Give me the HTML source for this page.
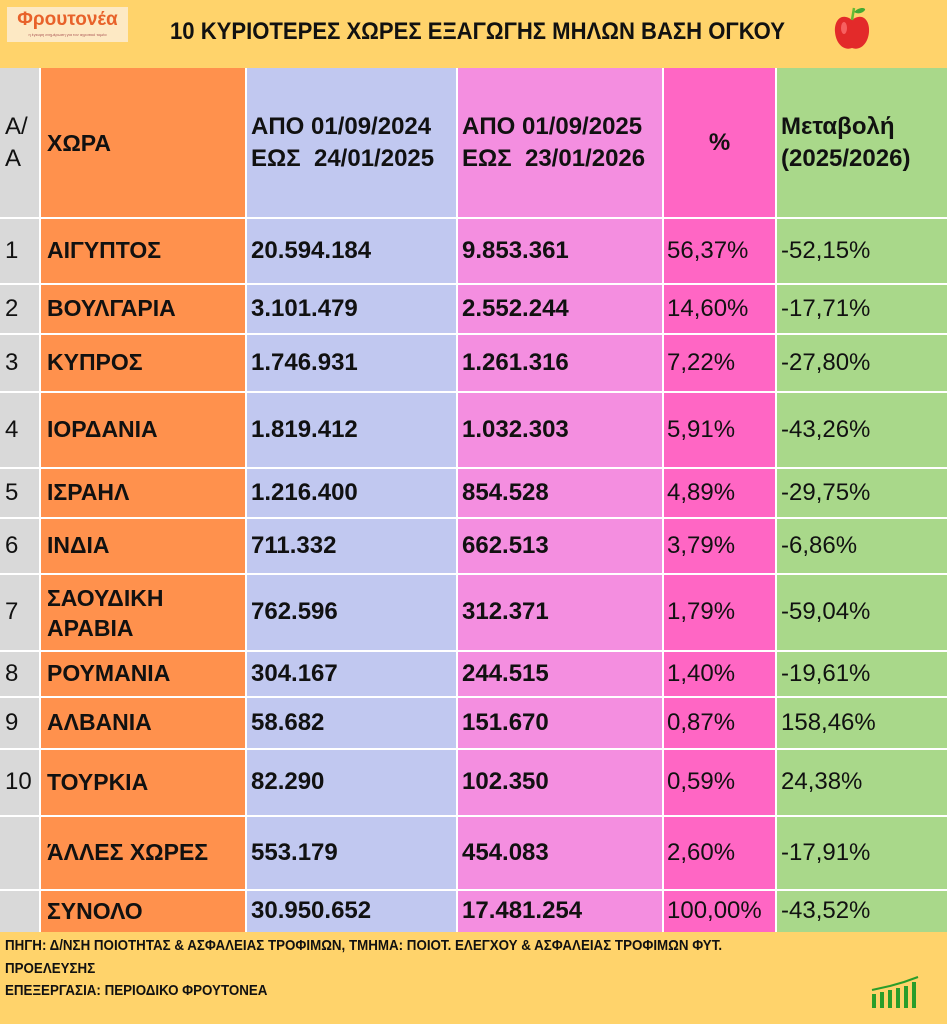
<!DOCTYPE html>
<html><head><meta charset="utf-8"><style>
*{margin:0;padding:0;box-sizing:border-box}
body{width:947px;height:1024px;position:relative;background:#ffd36b;font-family:"Liberation Sans",Arial,sans-serif;color:#111;overflow:hidden}
.c{position:absolute;display:flex;align-items:center;font-size:24px;line-height:1.35}
.b{font-weight:bold}
.cond{display:inline-block;transform-origin:left center;white-space:nowrap;font-weight:bold}
</style></head><body>
<div style="position:absolute;left:7px;top:7px;width:121px;height:35px;background:#fde9c4;text-align:center">
<div style="color:#e8622a;font-weight:bold;font-size:19px;line-height:24px;margin-top:1px">Φρουτονέα</div>
<div style="color:#a55;font-size:4px;line-height:5px">η έγκυρη ενημέρωση για τον αγροτικό τομέα</div></div>
<div style="position:absolute;left:170px;top:17px;font-size:24px;line-height:30px"><span class="cond" style="transform:scaleX(0.92)">10 ΚΥΡΙΟΤΕΡΕΣ ΧΩΡΕΣ ΕΞΑΓΩΓΗΣ ΜΗΛΩΝ ΒΑΣΗ ΟΓΚΟΥ</span></div>
<svg style="position:absolute;left:832px;top:4px" width="40" height="48" viewBox="0 0 40 48">
<path d="M20 16 C10 8 2 16 3 28 C4 40 12 47 20 44 C28 47 36 40 37 28 C38 16 30 8 20 16Z" fill="#e32a2a"/>
<ellipse cx="12" cy="24" rx="3" ry="6" fill="#f77" opacity=".7"/>
<path d="M20 16 L22 4" stroke="#6b3" stroke-width="2.5"/><path d="M22 8 C28 2 34 4 33 6 C30 10 25 10 22 8Z" fill="#4a3"/></svg>
<div style="position:absolute;left:0;top:68px;width:947px;height:864px;background:#fff"></div>
<div id="t"></div>
<div style="position:absolute;left:5px;top:935px;font-size:15px;line-height:22.5px">
<div><span class="cond" style="transform:scaleX(0.89)">ΠΗΓΗ: Δ/ΝΣΗ ΠΟΙΟΤΗΤΑΣ &amp; ΑΣΦΑΛΕΙΑΣ ΤΡΟΦΙΜΩΝ, ΤΜΗΜΑ: ΠΟΙΟΤ. ΕΛΕΓΧΟΥ &amp; ΑΣΦΑΛΕΙΑΣ ΤΡΟΦΙΜΩΝ ΦΥΤ.</span></div>
<div><span class="cond" style="transform:scaleX(0.89)">ΠΡΟΕΛΕΥΣΗΣ</span></div>
<div><span class="cond" style="transform:scaleX(0.89)">ΕΠΕΞΕΡΓΑΣΙΑ: ΠΕΡΙΟΔΙΚΟ ΦΡΟΥΤΟΝΕΑ</span></div></div>
<svg style="position:absolute;left:870px;top:976px" width="52" height="34" viewBox="0 0 52 34">
<g fill="#2a9d2a"><rect x="2" y="18" width="4" height="14"/><rect x="10" y="16" width="4" height="16"/><rect x="18" y="14" width="4" height="18"/><rect x="26" y="12" width="4" height="20"/><rect x="34" y="10" width="4" height="22"/><rect x="42" y="6" width="4" height="26"/></g>
<path d="M2 14 L20 10 L34 6 L48 1" stroke="#2a9d2a" stroke-width="2" fill="none"/></svg>
<script>
var X=[0,40,246,457,663,776,947],C=["#d9d9d9","#ff914d","#c1c8f0","#f48ee0","#ff66c4","#a9d88a"];
var Y=[68,218,284,334,392,468,518,574,651,697,749,816,890,932];
var R=[["A/<br>A","ΧΩΡΑ","ΑΠΟ 01/09/2024<br>ΕΩΣ&nbsp; 24/01/2025","ΑΠΟ 01/09/2025<br>ΕΩΣ&nbsp; 23/01/2026","%","Μεταβολή<br>(2025/2026)"],
["1","ΑΙΓΥΠΤΟΣ","20.594.184","9.853.361","56,37%","-52,15%"],
["2","ΒΟΥΛΓΑΡΙΑ","3.101.479","2.552.244","14,60%","-17,71%"],
["3","ΚΥΠΡΟΣ","1.746.931","1.261.316","7,22%","-27,80%"],
["4","ΙΟΡΔΑΝΙΑ","1.819.412","1.032.303","5,91%","-43,26%"],
["5","ΙΣΡΑΗΛ","1.216.400","854.528","4,89%","-29,75%"],
["6","ΙΝΔΙΑ","711.332","662.513","3,79%","-6,86%"],
["7","ΣΑΟΥΔΙΚΗ<br>ΑΡΑΒΙΑ","762.596","312.371","1,79%","-59,04%"],
["8","ΡΟΥΜΑΝΙΑ","304.167","244.515","1,40%","-19,61%"],
["9","ΑΛΒΑΝΙΑ","58.682","151.670","0,87%","158,46%"],
["10","ΤΟΥΡΚΙΑ","82.290","102.350","0,59%","24,38%"],
["","ΆΛΛΕΣ ΧΩΡΕΣ","553.179","454.083","2,60%","-17,91%"],
["","ΣΥΝΟΛΟ","30.950.652","17.481.254","100,00%","-43,52%"]];
var h="";
for(var r=0;r<R.length;r++)for(var c=0;c<6;c++){
var x=X[c]+(c?1:0),w=X[c+1]-X[c]-(c?1:0)-(c==5?0:1),y=Y[r]+(r?1:0),hh=Y[r+1]-Y[r]-(r?1:0)-(r==12?0:1);
var bold=(c>=1&&c<=3)||(r==0&&c!=0);var jc=(r==0&&c==4)?"center":"flex-start";
var pl=(r==0&&c==4)?0:(c==0?5:(c==1?6:(c==4?3:4)));
var fs=(c==1)?'font-size:23px;':'';
h+='<div class="c'+(bold?' b':'')+'" style="'+fs+'left:'+x+'px;top:'+y+'px;width:'+w+'px;height:'+hh+'px;background:'+C[c]+';justify-content:'+jc+';padding-left:'+pl+'px;'+(r==0?'line-height:32px;':(r==7&&c==1?'line-height:30px;':''))+'"><div>'+R[r][c]+'</div></div>';}
document.getElementById('t').outerHTML=h;
</script>
</body></html>
